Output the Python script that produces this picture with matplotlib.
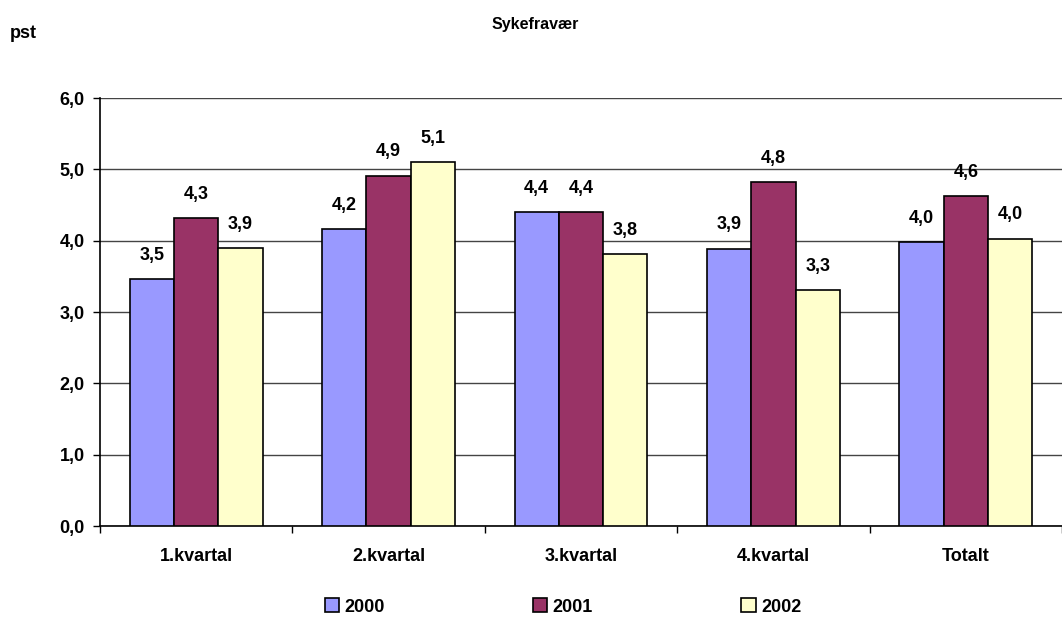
import matplotlib.pyplot as plt
import numpy as np

plt.rcParams["font.family"] = ["Liberation Sans", "DejaVu Sans"]
plt.rcParams["font.weight"] = "bold"

kvartaler = ["1.kvartal", "2.kvartal", "3.kvartal", "4.kvartal", "Totalt"]
aar = ["2000", "2001", "2002"]
fravaer_2000 = [3.46, 4.16, 4.40, 3.89, 3.98]
fravaer_2001 = [4.32, 4.91, 4.40, 4.82, 4.62]
fravaer_2002 = [3.90, 5.10, 3.81, 3.31, 4.03]
farger = ["#9999FF", "#993366", "#FFFFCC"]

fig = plt.figure(figsize=(10.62, 6.30), dpi=100)
ax = fig.add_axes([100 / 1062, 1 - 526 / 630, 962 / 1062, 428 / 630])

x = np.arange(len(kvartaler))
bredde = 0.23
for i, (serie, navn) in enumerate(zip([fravaer_2000, fravaer_2001, fravaer_2002], aar)):
    pos = x + (i - 1) * bredde
    ax.bar(pos, serie, bredde, color=farger[i], edgecolor="black", linewidth=1.2,
           label=navn, zorder=3)
    for px, v in zip(pos, serie):
        ax.annotate(f"{v:.1f}".replace(".", ","), (px, v), xytext=(0, 11),
                    textcoords="offset points", ha="center", va="bottom",
                    fontsize=13, fontweight="bold")

ax.set_xlim(-0.5, len(kvartaler) - 0.5)
ax.set_ylim(0, 6)
ax.set_yticks(np.arange(0, 6.1, 1))
ax.set_yticklabels([f"{t:.1f}".replace(".", ",") for t in np.arange(0, 6.1, 1)])
ax.set_xticks(x)
ax.set_xticklabels(kvartaler)
ax.set_xticks(np.arange(-0.5, len(kvartaler)), minor=True)
ax.tick_params(axis="x", which="major", length=0, pad=16, labelsize=13)
ax.tick_params(axis="x", which="minor", length=5, width=1, direction="out")
ax.tick_params(axis="y", length=5, width=1, direction="out", pad=6, labelsize=13)
ax.grid(axis="y", color="#444444", linewidth=1, zorder=0)
for s in ["top", "right"]:
    ax.spines[s].set_visible(False)
for s in ["left", "bottom"]:
    ax.spines[s].set_linewidth(1.2)

fig.text(535 / 1062, 1 - 25 / 630, "Sykefravær", ha="center", va="center",
         fontsize=11.5, fontweight="bold")
fig.text(10 / 1062, 1 - 33 / 630, "pst", ha="left", va="center",
         fontsize=13, fontweight="bold")

leg = fig.legend(loc="center", bbox_to_anchor=(563 / 1062, 1 - 607 / 630), ncol=3,
                 frameon=False, fontsize=13, handlelength=0.8, handleheight=0.8,
                 handletextpad=0.3, columnspacing=8.2)

fig.savefig("out.png", dpi=100)
